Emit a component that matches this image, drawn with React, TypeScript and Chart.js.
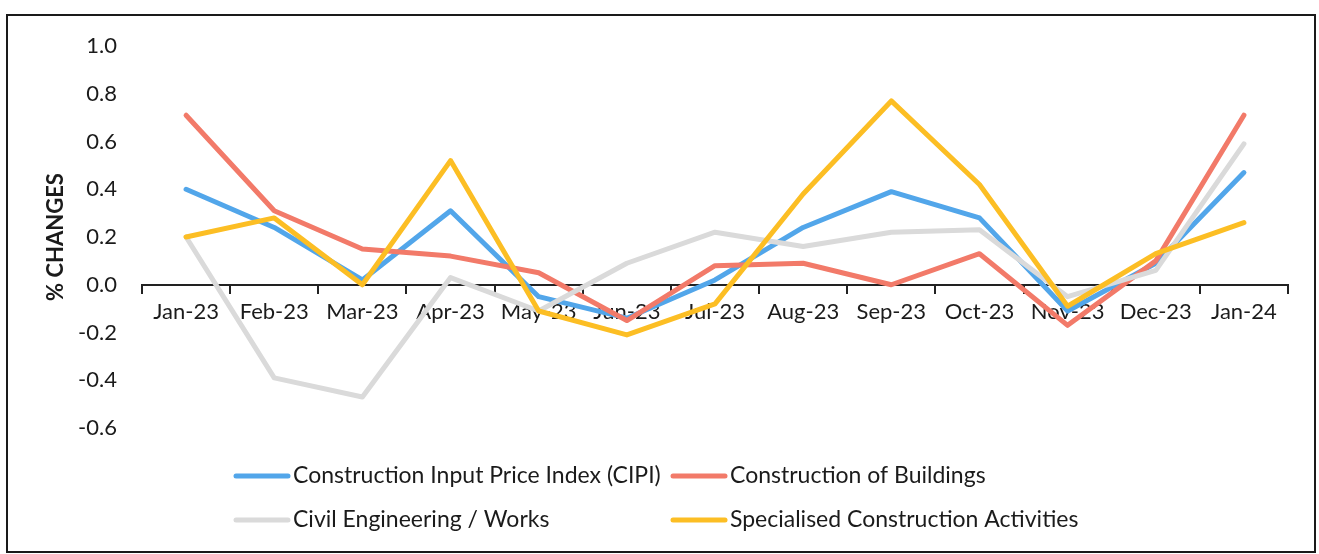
import React, { useEffect, useRef } from "react";
import { Chart, registerables } from "chart.js";

Chart.register(...registerables);

const categories = [
  "Jan-23", "Feb-23", "Mar-23", "Apr-23", "May-23", "Jun-23", "Jul-23",
  "Aug-23", "Sep-23", "Oct-23", "Nov-23", "Dec-23", "Jan-24",
];

const cipi = [0.40, 0.24, 0.02, 0.31, -0.05, -0.14, 0.02, 0.24, 0.39, 0.28, -0.11, 0.09, 0.47];
const buildings = [0.71, 0.31, 0.15, 0.12, 0.05, -0.15, 0.08, 0.09, 0.0, 0.13, -0.17, 0.10, 0.71];
const civil = [0.20, -0.39, -0.47, 0.03, -0.11, 0.09, 0.22, 0.16, 0.22, 0.23, -0.05, 0.06, 0.59];
const specialised = [0.20, 0.28, 0.0, 0.52, -0.11, -0.21, -0.08, 0.38, 0.77, 0.42, -0.09, 0.13, 0.26];

const seriesNames = [
  "Construction Input Price Index (CIPI)",
  "Construction of Buildings",
  "Civil Engineering / Works",
  "Specialised Construction Activities",
];
const seriesColors = ["#52A6EA", "#F27A69", "#DADADA", "#FCBE24"];

const yTickValues = [-0.6, -0.4, -0.2, 0.0, 0.2, 0.4, 0.6, 0.8, 1.0];
const yTitle = "% CHANGES";

const FONT = "Lato, 'Open Sans', sans-serif";
const TEXT = "#1b1b1b";

export default function App() {
  const ref = useRef<HTMLCanvasElement | null>(null);

  useEffect(() => {
    if (!ref.current) return;

    const gridLegend = {
      id: "gridLegend",
      afterDraw(chart: any) {
        const ctx = chart.ctx as CanvasRenderingContext2D;
        const cols = [226, 663];
        const rows = [460, 504];
        ctx.save();
        chart.data.datasets.forEach((ds: any, i: number) => {
          const x = cols[i % 2];
          const y = rows[Math.floor(i / 2)];
          ctx.strokeStyle = ds.borderColor;
          ctx.lineWidth = 5;
          ctx.lineCap = "round";
          ctx.beginPath();
          ctx.moveTo(x + 2, y);
          ctx.lineTo(x + 54, y);
          ctx.stroke();
          ctx.fillStyle = TEXT;
          ctx.font = `23px ${FONT}`;
          ctx.textBaseline = "middle";
          ctx.textAlign = "left";
          ctx.fillText(ds.label, x + 59, y);
        });
        ctx.restore();
      },
    };

    const seriesData = [cipi, buildings, civil, specialised];

    const chart = new Chart(ref.current, {
      type: "line",
      data: {
        labels: categories,
        datasets: seriesData.map((d, i) => ({
          label: seriesNames[i],
          data: d,
          borderColor: seriesColors[i],
          backgroundColor: seriesColors[i],
          borderWidth: 5,
          pointRadius: 0,
          tension: 0,
          borderCapStyle: "round",
          borderJoinStyle: "round",
          fill: false,
          order: 4 - i,
        })),
      },
      options: {
        animation: false,
        responsive: false,
        maintainAspectRatio: false,
        layout: { padding: { left: 0, right: 26, top: 30, bottom: 123 } },
        plugins: {
          legend: { display: false },
          tooltip: { enabled: false },
        },
        scales: {
          x: {
            position: { y: 0 } as any,
            offset: true,
            grid: {
              offset: true,
              drawOnChartArea: false,
              drawTicks: true,
              tickLength: 8,
              color: "#222",
              lineWidth: 2,
            },
            border: { display: true, color: "#222", width: 2 },
            ticks: {
              color: TEXT,
              font: { family: FONT, size: 22 },
              padding: 6,
              maxRotation: 0,
              autoSkip: false,
            },
          },
          y: {
            min: -0.6,
            max: 1.0,
            afterFit(scale: any) {
              scale.width = 134;
              scale.paddingTop = 13;
              scale.paddingBottom = 13;
            },
            afterBuildTicks(scale: any) {
              scale.ticks = yTickValues.map((v) => ({ value: v }));
            },
            grid: { display: false, drawTicks: false },
            border: { display: false },
            ticks: {
              color: TEXT,
              font: { family: FONT, size: 22 },
              padding: 25,
              callback: (v: any) => (Math.abs(Number(v)) < 1e-9 ? "0.0" : Number(v).toFixed(1)),
            },
            title: {
              display: true,
              text: yTitle,
              color: TEXT,
              font: { family: FONT, size: 22, weight: "bold" },
              padding: { top: 35, bottom: 0 },
            },
          },
        },
      },
      plugins: [gridLegend],
    });

    return () => chart.destroy();
  }, []);

  return (
    <div
      style={{
        position: "absolute",
        left: 6,
        top: 14,
        width: 1310,
        height: 539,
        border: "2px solid #1a1a1a",
        boxSizing: "border-box",
        background: "#fff",
      }}
    >
      <canvas ref={ref} width={1306} height={535} style={{ display: "block" }} />
    </div>
  );
}
